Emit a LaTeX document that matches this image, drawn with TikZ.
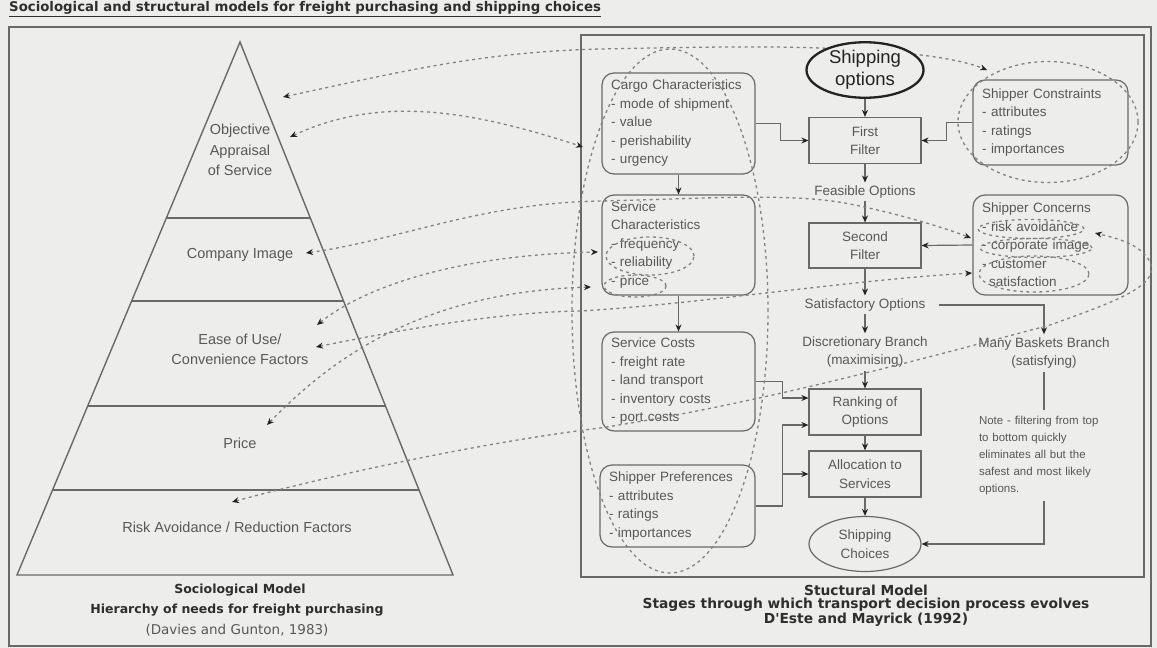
\documentclass[tikz,border=0pt]{standalone}
\usepackage{fontspec}
\setmainfont{Liberation Sans}
\newfontfamily\capfamily{DejaVu Sans}
\usetikzlibrary{calc}
\usetikzlibrary{positioning}
\usetikzlibrary{arrows.meta}
\usetikzlibrary{shapes.geometric}

\definecolor{paper}{RGB}{237,237,235}
\definecolor{ink}{RGB}{88,88,88}
\definecolor{rule}{RGB}{105,105,105}
\definecolor{dots}{RGB}{130,130,130}
\definecolor{head}{RGB}{35,35,35}

\newcommand{\boxfont}{\fontsize{13.5}{18.5}\selectfont}
\newcommand{\notefont}{\fontsize{11.5}{17}\selectfont}
\newcommand{\levelfont}{\fontsize{14.5}{20.5}\selectfont}
\newcommand{\capfont}{\capfamily\fontsize{12.5}{16}\selectfont\bfseries}
\newcommand{\bigcapfont}{\capfamily\fontsize{13.8}{16}\selectfont\bfseries}

\tikzset{
  arr/.style={draw=rule, line width=1.2pt, -{Stealth[length=7pt,width=6pt,color=head]}},
  link/.style={draw=dots, line width=1.3pt, dash pattern=on 3pt off 3.5pt,
    {Stealth[length=7pt,width=6pt,color=head]}-{Stealth[length=7pt,width=6pt,color=head]}},
  grp/.style={ellipse, draw=dots, line width=1.3pt, dash pattern=on 3pt off 3.5pt, inner sep=0pt},
  filterbox/.style={rectangle, draw=rule, line width=1.2pt, minimum width=112pt, minimum height=46pt, inner sep=0pt, align=center},
  listbox/.style={rectangle, rounded corners=12pt, draw=rule, line width=1.2pt, text width=135pt, inner xsep=9pt, inner ysep=0pt, align=left},
  lbl/.style={align=center, inner sep=3pt},
  level/.style={align=center, font=\levelfont},
  caption/.style={align=center, font=\capfont, text=head!80!ink},
  pyr/.style={draw=rule, line width=1.4pt},
}

\begin{document}
\begin{tikzpicture}[x=1pt, y=-1pt, font=\boxfont, text=ink]
  \fill[paper] (0,0) rectangle (1157,648);
  \useasboundingbox (0,0) rectangle (1157,648);

  \node[anchor=west, inner sep=0pt, font=\capfamily\fontsize{13.3}{15}\selectfont\bfseries, text=head!80!ink] (title) at (9,9)
    {\underline{Sociological and structural models for freight purchasing and shipping choices}};
  \draw[draw=rule, line width=1.1pt] (9,27) rectangle (1151,646);

  % sociological model
  \coordinate (apex) at (240,42);
  \coordinate (baseL) at (17,575);
  \coordinate (baseR) at (453,575);
  \draw[pyr] (apex) -- (baseR) -- (baseL) -- cycle;
  \foreach \f in {0.3302,0.4859,0.6829,0.8405}
    \draw[pyr] ($(apex)!\f!(baseL)$) -- ($(apex)!\f!(baseR)$);
  \node[level] (lvlObj) at (240,150) {Objective\\Appraisal\\of Service};
  \node[level] (lvlImage) at (240,255) {Company Image};
  \node[level] (lvlEase) at (240,349.5) {Ease of Use/\\Convenience Factors};
  \node[level] (lvlPrice) at (240,443) {Price};
  \node[level] (lvlRisk) at (237,527) {Risk Avoidance / Reduction Factors};
  \node[caption] (capSoc) at (240,590) {Sociological Model};
  \node[caption] (capSoc2) at (237,610) {Hierarchy of needs for freight purchasing};
  \node[align=center, font=\capfamily\fontsize{13.5}{15}\selectfont] (capSoc3) at (237,630) {(Davies and Gunton, 1983)};

  % structural model
  \draw[draw=rule, line width=1.5pt] (581,35) rectangle (1144,577);
  \node[listbox, minimum height=101pt] (cargo) at (678.5,123.5)
    {Cargo Characteristics\\- mode of shipment\\- value\\- perishability\\- urgency};
  \node[listbox, minimum height=100pt] (servChar) at (678.5,245)
    {Service\\Characteristics\\- frequency\\- reliability\\- price};
  \node[listbox, minimum height=99pt] (servCost) at (678.5,381.5)
    {Service Costs\\- freight rate\\- land transport\\- inventory costs\\- port costs};
  \node[listbox, minimum height=82pt, text width=137pt] (shipPref) at (677.5,506)
    {Shipper Preferences\\- attributes\\- ratings\\- importances};
  \node[listbox, minimum height=85pt, text width=137pt] (constr) at (1050.5,122.5)
    {Shipper Constraints\\- attributes\\- ratings\\- importances};
  \node[listbox, minimum height=100pt, text width=137pt] (concern) at (1050.5,245)
    {Shipper Concerns\\- risk avoidance\\- corporate image\\- customer\\\hspace*{7pt}satisfaction};

  \node[filterbox] (filt1) at (865,140.5) {First\\Filter};
  \node[lbl] (feas) at (865,192) {Feasible Options};
  \node[filterbox, minimum height=45pt] (filt2) at (865,245.5) {Second\\Filter};
  \node[lbl] (satis) at (865,305) {Satisfactory Options};
  \node[lbl] (discr) at (865,352) {Discretionary Branch\\(maximising)};
  \node[filterbox] (rank) at (865,412) {Ranking of\\Options};
  \node[filterbox] (alloc) at (865,474) {Allocation to\\Services};
  \node[ellipse, draw=rule, line width=1.2pt, minimum width=112pt, minimum height=55pt, inner sep=0pt, align=center] (choice) at (865,544) {Shipping\\Choices};
  \node[lbl] (many) at (1044,353) {Many Baskets Branch\\(satisfying)};
  \node[align=left, text width=128pt, inner sep=6pt, font=\notefont] (note) at (1043,455.5)
    {Note - filtering from top\\to bottom quickly\\eliminates all but the\\safest and most likely\\options.};

  \draw[arr] (cargo.east) -- ++(25,0) |- (filt1.west);
  \draw[arr] (constr.west) -- ++(-26,0) |- (filt1.east);
  \draw[arr] (filt1) -- (feas);
  \draw[arr] (feas) -- (filt2);
  \draw[arr] (concern.west) -- (filt2.east);
  \draw[arr] (filt2) -- (satis);
  \draw[arr] (satis) -- (discr);
  \draw[arr] (discr) -- (rank);
  \draw[arr] ([xshift=10pt]satis.east) -| (many.north);
  \draw[arr] (cargo) -- (servChar);
  \draw[arr] (servChar) -- (servCost);
  \draw[arr] (servCost.east) -- ++(27,0) |- ([yshift=14pt]rank.west);
  \coordinate (prefJoin) at ($(shipPref.east)+(27,0)$);
  \draw[arr] (shipPref.east) -- (prefJoin) |- ([yshift=-13pt]rank.west);
  \draw[arr] (prefJoin) |- (alloc.west);
  \draw[arr] (rank) -- (alloc);
  \draw[arr] (alloc) -- (choice);
  \draw[draw=rule, line width=1.2pt] (many.south) -- (many.south |- note.north);
  \draw[arr] (note.south -| many.south) |- (choice.east);

  % groupings and links between the two models
  \node[grp, minimum width=196pt, minimum height=524pt] (colGrp) at (670,311) {};
  \node[grp, minimum width=180pt, minimum height=121pt] (conGrp) at (1048,122) {};
  \node[grp, minimum width=88pt, minimum height=38pt] (freqGrp) at (650,256) {};
  \node[grp, minimum width=62pt, minimum height=22pt] (priceGrp) at (635,286) {};
  \node[grp, minimum width=106pt, minimum height=19pt] (riskGrp) at (1031,229) {};
  \node[grp, minimum width=112pt, minimum height=19pt] (corpGrp) at (1036,248) {};
  \node[grp, minimum width=110pt, minimum height=36pt] (custGrp) at (1034,274) {};

  \coordinate (objTop) at (283,97);
  \coordinate (objLow) at (290,137);
  \coordinate (imgIn) at (306,253);
  \coordinate (easeTop) at (317,325);
  \coordinate (easeLow) at (316,347);
  \coordinate (priceIn) at (267,425);
  \coordinate (riskIn) at (232,502);
  \coordinate (conEnd) at (987,70);
  \coordinate (cargoEnd) at (583,147);
  \coordinate (freqEnd) at (598,252);
  \coordinate (priceEnd) at (591,287);
  \coordinate (corpEnd) at (971,238);
  \coordinate (custEnd) at (972,273);
  \coordinate (riskEnd) at (1095,233);

  \draw[link] (objTop) .. controls (400,72) and (480,52) .. (600,49) .. controls (700,47) and (760,46) .. (820,48) .. controls (880,50) and (950,55) .. (conEnd);
  \draw[link] (objLow) .. controls (380,95) and (470,110) .. (cargoEnd);
  \draw[link] (imgIn) .. controls (400,240) and (480,203) .. (600,201) .. controls (700,199) and (790,192) .. (850,204) .. controls (900,214) and (945,228) .. (corpEnd);
  \draw[link] (easeTop) .. controls (360,290) and (450,255) .. (freqEnd);
  \draw[link] (priceIn) .. controls (330,360) and (420,292) .. (priceEnd);
  \draw[link] (easeLow) .. controls (400,330) and (500,312) .. (580,311) .. controls (690,305) and (850,280) .. (custEnd);
  \draw[link] (riskIn) .. controls (350,470) and (500,440) .. (600,428) .. controls (750,405) and (900,365) .. (1050,325) .. controls (1120,300) and (1160,285) .. (1150,262) .. controls (1140,243) and (1115,238) .. (riskEnd);

  \node[ellipse, draw=head, line width=2.3pt, fill=paper, minimum width=117pt, minimum height=52pt, inner sep=0pt, align=center, font=\fontsize{18.5}{22}\selectfont, text=head] (shipOpt) at (865,70) {Shipping\\options};
  \draw[arr] (shipOpt) -- (filt1);

  \node[caption, font=\bigcapfont] (capStr) at (866,590) {Stuctural Model};
  \node[caption, font=\bigcapfont] (capStr2) at (866,605) {Stages through which transport decision process evolves};
  \node[caption, font=\bigcapfont] (capStr3) at (866,620) {D'Este and Mayrick (1992)};
\end{tikzpicture}
\end{document}
